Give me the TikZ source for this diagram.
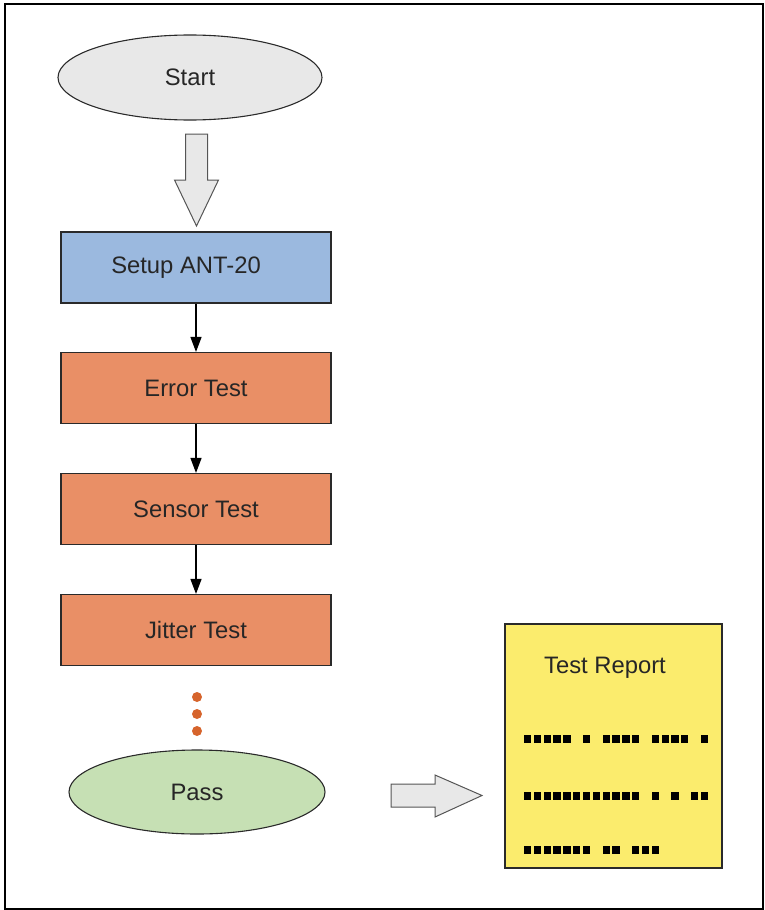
\documentclass[tikz,border=0pt]{standalone}
\usepackage{fontspec}
\setmainfont{Liberation Sans}
\usetikzlibrary{arrows.meta,shapes.geometric}
\definecolor{boxblue}{HTML}{9BB9DF}
\definecolor{boxorange}{HTML}{E98F66}
\definecolor{repyellow}{HTML}{FBEC6D}
\definecolor{passgreen}{HTML}{C6E0B4}
\definecolor{startgrey}{HTML}{E8E8E8}
\definecolor{dotorange}{HTML}{D6642C}
\definecolor{edge}{HTML}{2A2A2A}
\begin{document}
\begin{tikzpicture}[x=1pt,y=-1pt,
  every node/.style={font=\fontsize{23.8}{28}\selectfont, text=black!85},
  procbox/.style={draw=edge, line width=1.1pt, rectangle, minimum width=270pt, minimum height=71pt, inner sep=0pt},
  oval/.style={draw=edge, line width=1.1pt, ellipse, inner sep=0pt},
  conn/.style={line width=1.3pt, -{Triangle[length=15pt,width=11pt]}},
  blockarrow/.style={draw=edge!80, line width=1pt, fill=startgrey, line join=miter},
  sq/.style={fill=black}
]
\useasboundingbox (0,0) rectangle (765,910);
\draw[line width=1.5pt] (5,4) rectangle (763,909);

\node[oval, fill=startgrey, minimum width=264pt, minimum height=85pt] (start) at (190,77.5) {Start};

\coordinate (dA) at (196.5,134);
\draw[blockarrow] (dA) ++(-11,0) -- ++(22,0) -- ++(0,46) -- ++(11,0) -- (196.5,226) -- (174.5,180) -- ++(11,0) -- cycle;

\node[procbox, fill=boxblue] (setup) at (196,267.5) {\raisebox{-2pt}{Setup ANT-20}\hspace*{20pt}};
\node[procbox, fill=boxorange] (error) at (196,388) {Error Test};
\node[procbox, fill=boxorange] (sensor) at (196,509) {Sensor Test};
\node[procbox, fill=boxorange] (jitter) at (196,630) {Jitter Test};

\draw[conn] (setup.south) -- (error.north);
\draw[conn] (error.south) -- (sensor.north);
\draw[conn] (sensor.south) -- (jitter.north);

\fill[dotorange] (197,697) circle (5pt);
\fill[dotorange] (197,714) circle (5pt);
\fill[dotorange] (197,731) circle (5pt);

\node[oval, fill=passgreen, minimum width=256pt, minimum height=84pt] (pass) at (197,792) {Pass};

\coordinate (rA) at (391,784);
\draw[blockarrow] (rA) -- (435,784) -- (435,775) -- (482,795.5) -- (435,817) -- (435,807) -- (391,807) -- cycle;

\node[draw=edge, line width=1.5pt, fill=repyellow, rectangle, minimum width=217pt, minimum height=244pt, inner sep=0pt] (report) at (613.5,746) {};
\node (reptitle) at (605,667.5) {Test Report};

\foreach \p in {0,1,2,3,4,6,8,9,10,11,13,14,15,16,18}
  \fill[sq] (524,735.4) ++(\p*9.83,0) rectangle +(7.2,7.2);
\foreach \p in {0,1,2,3,4,5,6,7,8,9,10,11,13,15,17,18}
  \fill[sq] (524,792.4) ++(\p*9.83,0) rectangle +(7.2,7.2);
\foreach \p in {0,1,2,3,4,5,6,8,9,11,12,13}
  \fill[sq] (524,846.4) ++(\p*9.83,0) rectangle +(7.2,7.2);
\end{tikzpicture}
\end{document}
